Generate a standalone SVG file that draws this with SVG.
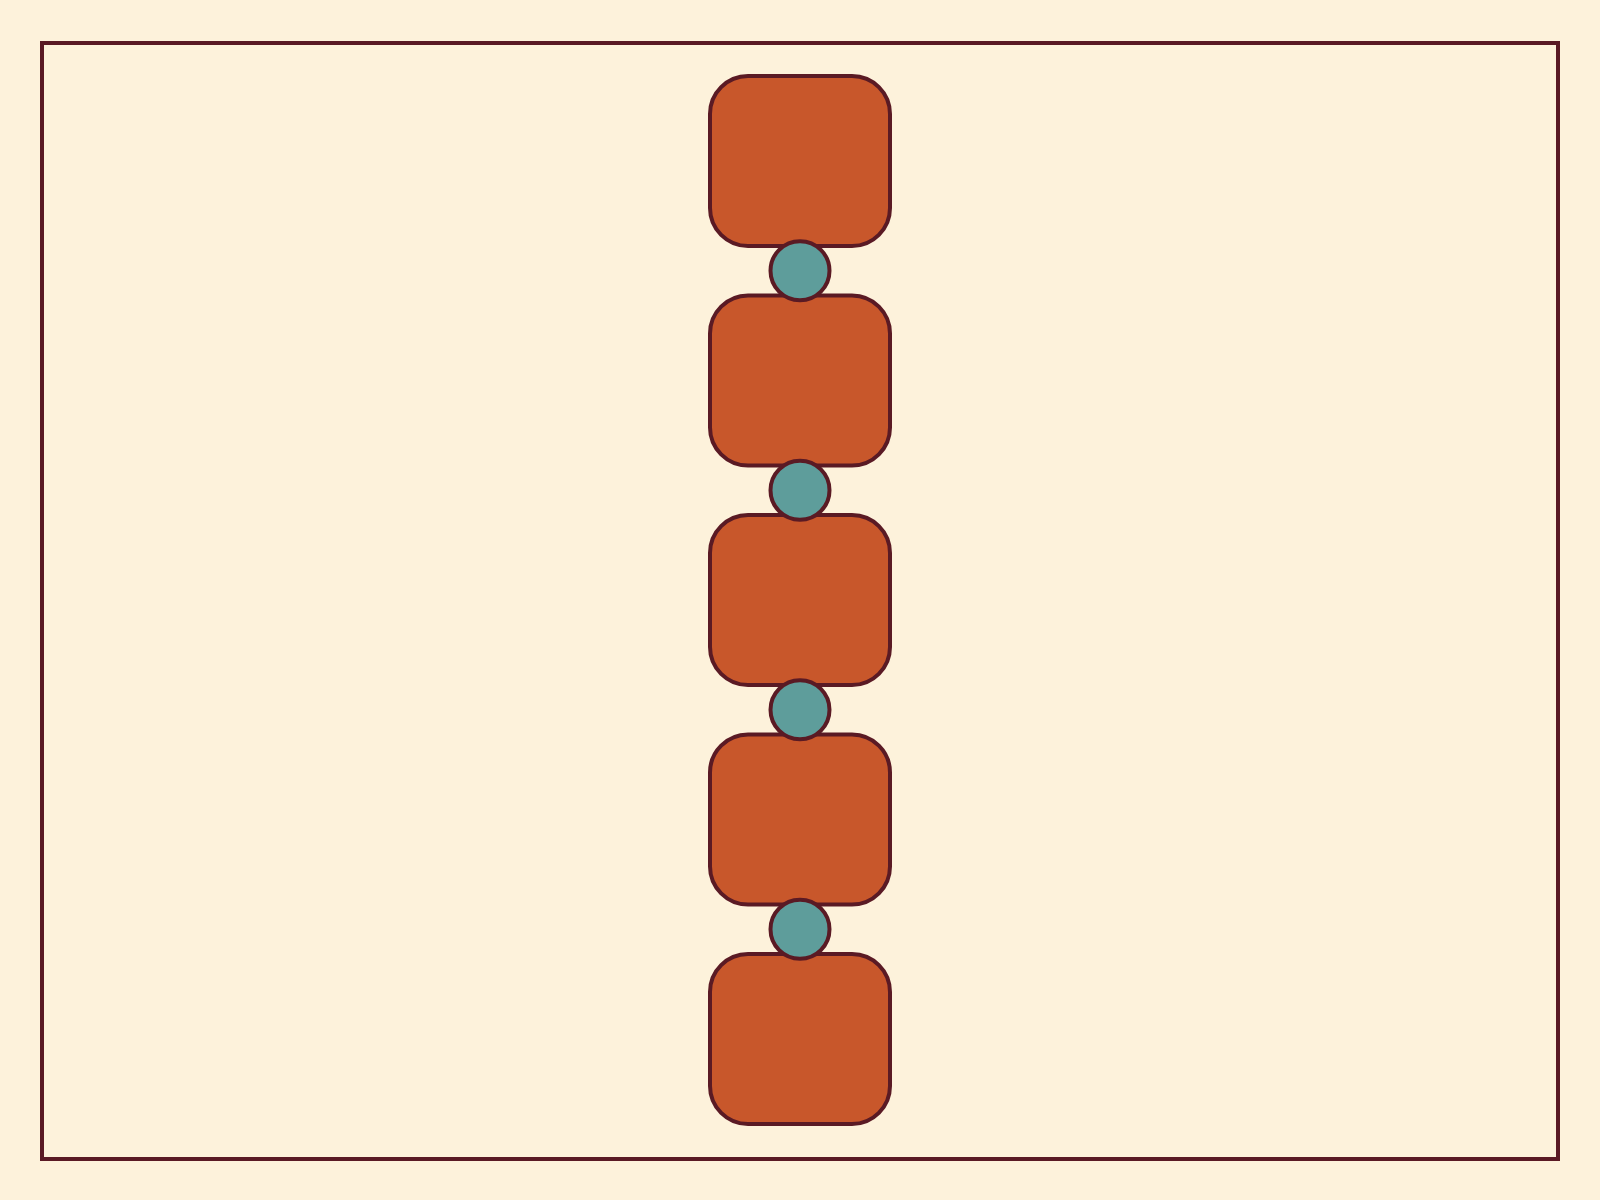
<svg xmlns="http://www.w3.org/2000/svg" width="1600" height="1200" viewBox="0 0 1600 1200">
  <style>
    .box { fill: #C8572B; stroke: #5A1A24; stroke-width: 4; }
    .joint { fill: #5E9D9B; stroke: #5A1A24; stroke-width: 4; }
    .frame { fill: none; stroke: #5A1A24; stroke-width: 4; }
  </style>
  <rect x="0" y="0" width="1600" height="1200" fill="#FDF2DB"/>
  <rect class="frame" x="42" y="43" width="1516" height="1116"/>
  <g id="node1"><rect class="box" x="710" y="76" width="180" height="170" rx="38" ry="38"/></g>
  <g id="node2"><rect class="box" x="710" y="295.5" width="180" height="170" rx="38" ry="38"/></g>
  <g id="node3"><rect class="box" x="710" y="515" width="180" height="170" rx="38" ry="38"/></g>
  <g id="node4"><rect class="box" x="710" y="734.5" width="180" height="170" rx="38" ry="38"/></g>
  <g id="node5"><rect class="box" x="710" y="954" width="180" height="170" rx="38" ry="38"/></g>
  <g id="connectors">
    <circle class="joint" cx="800" cy="270.75" r="29.5"/>
    <circle class="joint" cx="800" cy="490.25" r="29.5"/>
    <circle class="joint" cx="800" cy="709.75" r="29.5"/>
    <circle class="joint" cx="800" cy="929.25" r="29.5"/>
  </g>
</svg>
